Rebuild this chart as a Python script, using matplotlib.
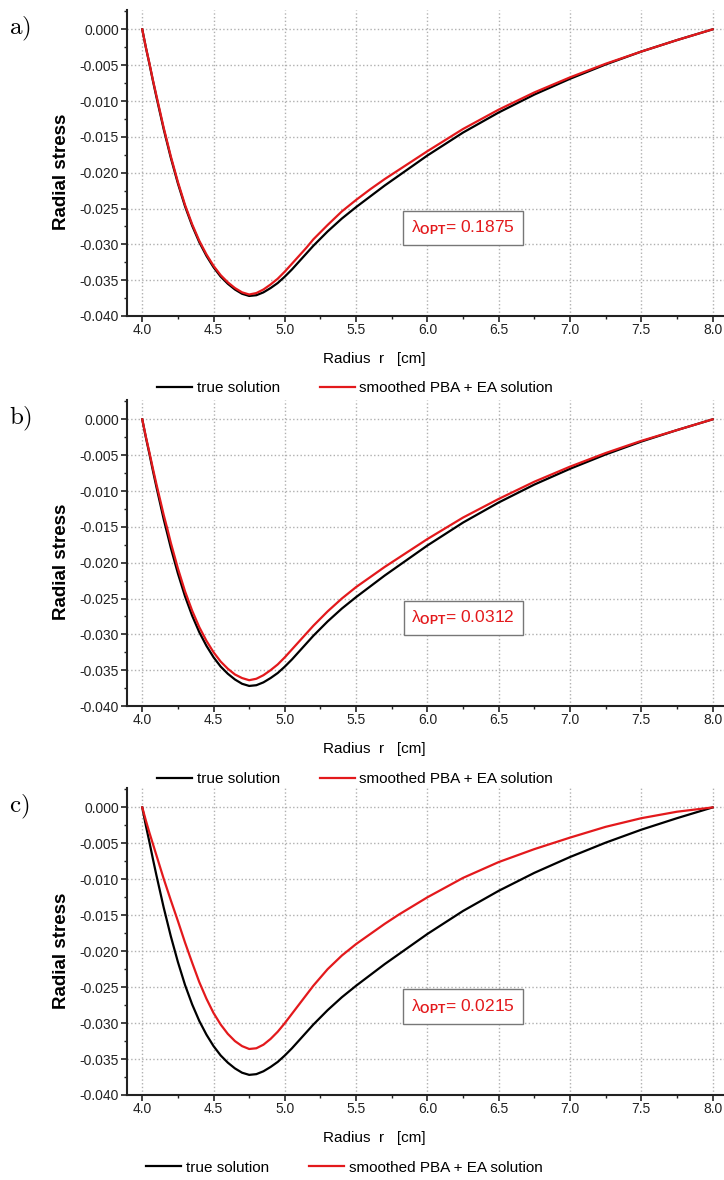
#!/usr/bin/env python3

import matplotlib
matplotlib.use("Agg")
import matplotlib.pyplot as plt
from matplotlib.ticker import MultipleLocator, FormatStrFormatter

plt.rcParams['font.family'] = ['Liberation Sans', 'DejaVu Sans']
plt.rcParams['mathtext.fontset'] = 'custom'
plt.rcParams['mathtext.rm'] = 'Liberation Sans'
plt.rcParams['mathtext.it'] = 'Liberation Sans:italic'
plt.rcParams['mathtext.bf'] = 'Liberation Sans:bold'

# radius grid [cm]
radius = [4.00, 4.025, 4.05, 4.075, 4.10, 4.125, 4.15, 4.175, 4.20, 4.25,
          4.30, 4.35, 4.40, 4.45, 4.50, 4.55, 4.60, 4.65, 4.70, 4.75,
          4.80, 4.85, 4.90, 4.95, 5.00, 5.05, 5.10, 5.15, 5.20, 5.30,
          5.40, 5.50, 5.60, 5.70, 5.80, 5.90, 6.00, 6.25, 6.50, 6.75,
          7.00, 7.25, 7.50, 7.75, 8.00]

true_solution = [0.0, -0.0025, -0.0048, -0.0072, -0.0095, -0.0117, -0.0139, -0.0159, -0.0179, -0.0215,
                 -0.0247, -0.0274, -0.0297, -0.0316, -0.0332, -0.0345, -0.0355, -0.0363, -0.0369, -0.0372,
                 -0.0371, -0.0367, -0.0361, -0.0354, -0.0345, -0.0335, -0.0324, -0.0313, -0.0302, -0.0282,
                 -0.0264, -0.0248, -0.0233, -0.0218, -0.0204, -0.0190, -0.0176, -0.0144, -0.0116, -0.0091,
                 -0.0069, -0.0049, -0.0031, -0.0015, 0.0]

smoothed_a = [0.0, -0.0025, -0.0047, -0.0071, -0.0093, -0.0115, -0.0137, -0.0157, -0.0177, -0.0213,
              -0.0245, -0.0272, -0.0295, -0.0314, -0.0330, -0.0343, -0.0353, -0.0361, -0.0367, -0.0370,
              -0.0368, -0.0363, -0.0356, -0.0348, -0.0338, -0.0327, -0.0316, -0.0305, -0.0293, -0.0273,
              -0.0254, -0.0238, -0.0223, -0.0209, -0.0196, -0.0183, -0.0170, -0.0139, -0.0112, -0.0088,
              -0.0067, -0.0048, -0.0031, -0.0015, 0.0]

smoothed_b = [0.0, -0.0024, -0.0046, -0.0069, -0.0091, -0.0112, -0.0133, -0.0152, -0.0172, -0.0208,
              -0.0240, -0.0267, -0.0290, -0.0309, -0.0325, -0.0338, -0.0348, -0.0356, -0.0361, -0.0364,
              -0.0362, -0.0357, -0.0350, -0.0342, -0.0332, -0.0321, -0.0310, -0.0299, -0.0288, -0.0268,
              -0.0250, -0.0234, -0.0220, -0.0206, -0.0193, -0.0180, -0.0167, -0.0137, -0.0111, -0.0087,
              -0.0066, -0.0047, -0.0030, -0.0015, 0.0]

smoothed_c = [0.0, -0.0018, -0.0035, -0.0051, -0.0067, -0.0083, -0.0099, -0.0114, -0.0129, -0.0158,
              -0.0188, -0.0216, -0.0243, -0.0266, -0.0286, -0.0302, -0.0315, -0.0325, -0.0332, -0.0336,
              -0.0335, -0.0330, -0.0322, -0.0312, -0.0300, -0.0287, -0.0274, -0.0261, -0.0248, -0.0225,
              -0.0206, -0.0190, -0.0176, -0.0162, -0.0149, -0.0137, -0.0125, -0.0098, -0.0076, -0.0058,
              -0.0042, -0.0027, -0.0015, -0.0006, 0.0]

panel_labels = ["a)", "b)", "c)"]
lambda_opt = ["0.1875", "0.0312", "0.0215"]
smoothed = [smoothed_a, smoothed_b, smoothed_c]

W, H = 724, 1180
fig = plt.figure(figsize=(W / 100, H / 100), dpi=100)

# axes boxes in pixels: (left, top, right, bottom)
boxes = [(127, 10, 724, 316), (127, 400, 724, 706), (127, 788, 724, 1095)]
legend_pos = [(0.382, -0.235), (0.382, -0.239), (0.364, -0.237)]

red = '#e3191c'
for i, (l, t, r, b) in enumerate(boxes):
    ax = fig.add_axes([l / W, 1 - b / H, (r - l) / W, (b - t) / H])
    ax.plot(radius, true_solution, color='black', lw=1.6, label='true solution', zorder=3)
    ax.plot(radius, smoothed[i], color=red, lw=1.6, label='smoothed PBA + EA solution', zorder=3)

    ax.set_xlim(3.893, 8.08)
    ax.set_ylim(-0.040, 0.0027)
    ax.xaxis.set_major_locator(MultipleLocator(0.5))
    ax.xaxis.set_minor_locator(MultipleLocator(0.25))
    ax.yaxis.set_major_locator(MultipleLocator(0.005))
    ax.yaxis.set_minor_locator(MultipleLocator(0.0025))
    ax.xaxis.set_major_formatter(FormatStrFormatter('%.1f'))
    ax.yaxis.set_major_formatter(FormatStrFormatter('%.3f'))
    ax.tick_params(which='major', length=4.5, width=1.2, labelsize=10, colors='#222222')
    ax.tick_params(axis='x', which='major', pad=0.8)
    ax.tick_params(axis='y', which='major', pad=1.2)
    ax.tick_params(which='minor', length=2.5, width=1.0, colors='#222222')

    ax.grid(True, which='major', linestyle=':', color='#b0b0b0', linewidth=1.0)
    for s in ['top', 'right']:
        ax.spines[s].set_visible(False)
    for s in ['left', 'bottom']:
        ax.spines[s].set_linewidth(1.5)
        ax.spines[s].set_color('#222222')

    ax.set_ylabel('Radial stress', fontsize=13.5, fontweight='bold', va='center')
    ax.yaxis.set_label_coords(-0.109, 0.47)
    ax.set_xlabel('Radius  r   [cm]', fontsize=11, va='center')
    ax.xaxis.set_label_coords(0.414, -0.1405)

    ax.text(6.25, -0.0277, r'$\mathrm{λ}_{\mathbf{OPT}}$= ' + lambda_opt[i], color=red,
            fontsize=12.5, ha='center', va='center', zorder=4,
            bbox=dict(boxstyle='square,pad=0.45', fc='white', ec='#777777', lw=1.0))

    ax.legend(loc='center', bbox_to_anchor=legend_pos[i], ncol=2, frameon=False,
              fontsize=11, handlelength=2.3, columnspacing=2.6, handletextpad=0.3)

    fig.text(9 / W, 1 - (t + 19) / H, r'$\mathrm{' + panel_labels[i] + '}$',
             fontsize=18, math_fontfamily='cm', ha='left', va='center')

fig.savefig("out.png", dpi=100)
